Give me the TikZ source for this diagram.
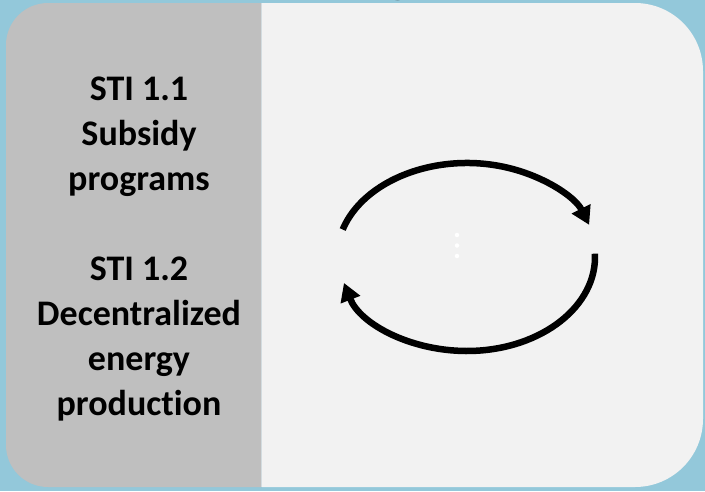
\documentclass[tikz,border=0pt]{standalone}
\usepackage{fontspec}
\setmainfont{Carlito}[Ligatures=CommonOff]
\usetikzlibrary{arrows.meta}
\definecolor{framebg}{HTML}{93C8DA}
\definecolor{sidepanel}{HTML}{BFBFBF}
\definecolor{mainpanel}{HTML}{F2F2F2}
\definecolor{divider}{HTML}{D3DCE0}
\tikzset{
  sidetext/.style={align=center, inner sep=0pt, text=black,
    font=\fontsize{36}{45}\selectfont\bfseries},
  cyclearrow/.style={line width=6.5pt, draw=black,
    -{Triangle[length=18pt,width=20pt]}},
  dot/.style={circle, fill=white, inner sep=0pt, minimum size=4.5pt}
}
\begin{document}
\begin{tikzpicture}[x=1pt, y=-1pt]
  \useasboundingbox (0,0) rectangle (705,491);
  \begin{scope}
    \clip (0,0) rectangle (705,491);
    % outer background
    \fill[framebg] (0,0) rectangle (705,491);
    % left panel, rounded on its left side
    \fill[sidepanel] (262,3) [rounded corners=42pt] -- (6,3) -- (6,487)
      [sharp corners] -- (262,487) -- cycle;
    % right panel, rounded on its right side
    \fill[mainpanel] (262,3) [rounded corners=68pt] -- (703,3) -- (703,487)
      [sharp corners] -- (262,487) -- cycle;
    \draw[divider, line width=1.5pt] (261.5,3) -- (261.5,487);
    % heading letter, mostly above the page
    \node[font=\fontsize{60}{60}\selectfont\bfseries, anchor=base, inner sep=0pt]
      (heading) at (399,-10) {g};
  \end{scope}

  % labels of the left panel (base anchor sits on the last line)
  \node[sidetext, anchor=base] (sti) at (139,415)
    {STI 1.1\\Subsidy\\programs\\[45pt]STI 1.2\\Decentralized\\energy\\production};

  % cycle of two arrows
  \coordinate (cyc) at (467,257);
  \draw[cyclearrow] ([shift={(197:130 and 94)}]cyc)
    arc[start angle=197, end angle=340, x radius=130, y radius=94];
  \draw[cyclearrow] ([shift={(-2:128 and 94)}]cyc)
    arc[start angle=-2, end angle=164, x radius=128, y radius=94];

  % vertical ellipsis in the centre
  \node[dot] (d1) at (457,235) {};
  \node[dot] (d2) at (457,245.5) {};
  \node[dot] (d3) at (457,256) {};
\end{tikzpicture}
\end{document}
